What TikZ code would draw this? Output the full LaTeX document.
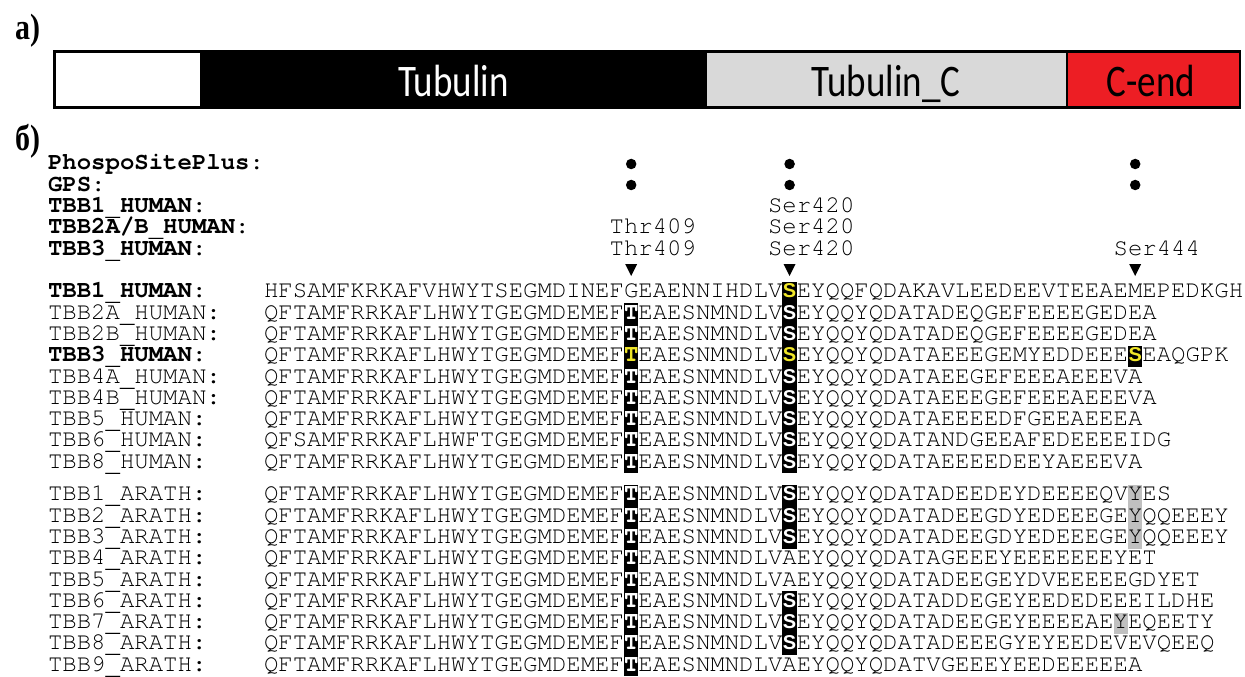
\documentclass[tikz,border=0pt]{standalone}
\usepackage{fontspec}
\setmainfont{Liberation Serif}
\newfontfamily\cur{texgyrecursor}[Extension=.otf,UprightFont=*-regular,BoldFont=*-bold]
\newfontfamily\hlsans{Liberation Sans}
\newfontfamily\carl{Carlito}
\definecolor{hyel}{RGB}{240,230,40}
\definecolor{hgray}{RGB}{192,192,192}
\definecolor{tcgray}{RGB}{217,217,217}
\definecolor{cred}{RGB}{237,30,36}
\newcommand\seqfont{\cur\fontsize{24bp}{24bp}\selectfont}
\newcommand\us{\raisebox{-3bp}{\_}}
\newcommand\hk[3]{\makebox[0pt][l]{\textcolor{#1}{\rule[-5.2bp]{14.4bp}{21.3bp}}}\makebox[14.4bp]{\hlsans\bfseries\fontsize{20bp}{20bp}\selectfont\textcolor{#2}{#3}}}
\newcommand\hlT[2]{\makebox[0pt][l]{\textcolor{#1}{\rule[-5.2bp]{14.4bp}{21.3bp}}}\makebox[14.4bp]{\bfseries\textcolor{#2}{T}}}
\newcommand\hy{\makebox[0pt][l]{\textcolor{hgray}{\rule[-5.2bp]{14.4bp}{21.3bp}}}Y}
\newcommand\pre{QFTAMFRRKAFLHWYTGEGMDEMEF}
\newcommand\tall[1]{\scalebox{1}[1.22]{#1}}
\begin{document}
\begin{tikzpicture}[x=1bp,y=-1bp,
  txt/.style={anchor=base west,inner sep=0pt,outer sep=0pt,font=\seqfont},
  panel/.style={anchor=base west,inner sep=0pt,outer sep=0pt,font=\bfseries\fontsize{30bp}{30bp}\selectfont},
  seg/.style={anchor=north west,inner sep=0pt,outer sep=0pt,minimum height=56bp},
  bartxt/.style={anchor=base,inner sep=0pt,outer sep=0pt,font=\carl\fontsize{37bp}{37bp}\selectfont},
  dot/.style={circle,fill=black,inner sep=0pt,minimum size=10.5bp}]
\useasboundingbox (0,0) rectangle (1245,677);
% panel a
\node[panel] (la) at (15,40) {\tall{a)}};
\node[seg,fill=white,minimum width=145.5bp] (s0) at (54.5,51.5) {};
\node[seg,fill=black,minimum width=507bp] (s1) at (200,51.5) {};
\node[seg,fill=tcgray,minimum width=360bp] (s2) at (707,51.5) {};
\node[seg,fill=cred,minimum width=173bp] (s3) at (1067,51.5) {};
\node[bartxt,text=white] (t1) at (453.5,96.5) {\tall{Tubulin}};
\node[bartxt] (t2) at (886,96.5) {\tall{Tubulin\_C}};
\node[bartxt] (t3) at (1151,96.5) {\tall{C-end}};
\draw[line width=2.2bp] (s2.north east) -- (s2.south east);
\draw[line width=2.2bp] (s0.north west) rectangle (s3.south east);
% panel b
\node[panel] (lb) at (15,151) {\tall{б)}};
% header
\node[txt] (h0) at (48,170) {{\bfseries PhospoSitePlus}:};
\node[txt] (h1) at (48,191.3) {{\bfseries GPS}:};
\node[txt] (h2) at (48,212.6) {{\bfseries TBB1\us HUMAN}:};
\node[txt] (h3) at (48,233.9) {{\bfseries TBB2A/B\us HUMAN}:};
\node[txt] (h4) at (48,255.2) {{\bfseries TBB3\us HUMAN}:};
\foreach \c/\n in {631.2/a,789.6/b,1135.2/c}{
  \node[dot] (p\n) at (\c,164) {};
  \node[dot] (g\n) at (\c,185) {};
  \fill (\c-6,264) -- (\c+6,264) -- (\c,276) -- cycle;
}
\node[txt] (k1) at (768,212.6) {Ser420};
\node[txt] (k2) at (609.6,233.9) {Thr409};
\node[txt] (k3) at (768,233.9) {Ser420};
\node[txt] (k4) at (609.6,255.2) {Thr409};
\node[txt] (k5) at (768,255.2) {Ser420};
\node[txt] (k6) at (1113.6,255.2) {Ser444};
% human
\node[txt] (n1) at (48,297.8) {{\bfseries TBB1\us HUMAN}:};
\node[txt] (q1) at (264,297.8) {HFSAMFKRKAFVHWYTSEGMDINEFGEAENNIHDLV\hk{black}{hyel}{S}EYQQFQDAKAVLEEDEEVTEEAEMEPEDKGH};
\node[txt] (n2) at (48,319.1) {TBB2A\us HUMAN:};
\node[txt] (q2) at (264,319.1) {\pre\hlT{black}{white}EAESNMNDLV\hk{black}{white}{S}EYQQYQDATADEQGEFEEEEGEDEA};
\node[txt] (n3) at (48,340.4) {TBB2B\us HUMAN:};
\node[txt] (q3) at (264,340.4) {\pre\hlT{black}{white}EAESNMNDLV\hk{black}{white}{S}EYQQYQDATADEQGEFEEEEGEDEA};
\node[txt] (n4) at (48,361.7) {{\bfseries TBB3\us HUMAN}:};
\node[txt] (q4) at (264,361.7) {\pre\hlT{black}{hyel}EAESNMNDLV\hk{black}{hyel}{S}EYQQYQDATAEEEGEMYEDDEEE\hk{black}{hyel}{S}EAQGPK};
\node[txt] (n5) at (48,383) {TBB4A\us HUMAN:};
\node[txt] (q5) at (264,383) {\pre\hlT{black}{white}EAESNMNDLV\hk{black}{white}{S}EYQQYQDATAEEGEFEEEAEEEVA};
\node[txt] (n6) at (48,404.3) {TBB4B\us HUMAN:};
\node[txt] (q6) at (264,404.3) {\pre\hlT{black}{white}EAESNMNDLV\hk{black}{white}{S}EYQQYQDATAEEEGEFEEEAEEEVA};
\node[txt] (n7) at (48,425.6) {TBB5\us HUMAN:};
\node[txt] (q7) at (264,425.6) {\pre\hlT{black}{white}EAESNMNDLV\hk{black}{white}{S}EYQQYQDATAEEEEDFGEEAEEEA};
\node[txt] (n8) at (48,446.9) {TBB6\us HUMAN:};
\node[txt] (q8) at (264,446.9) {QFSAMFRRKAFLHWFTGEGMDEMEF\hlT{black}{white}EAESNMNDLV\hk{black}{white}{S}EYQQYQDATANDGEEAFEDEEEEIDG};
\node[txt] (n9) at (48,468.2) {TBB8\us HUMAN:};
\node[txt] (q9) at (264,468.2) {\pre\hlT{black}{white}EAESNMNDLV\hk{black}{white}{S}EYQQYQDATAEEEEDEEYAEEEVA};
% arath
\node[txt] (a1) at (48,500.8) {TBB1\us ARATH:};
\node[txt] (r1) at (264,500.8) {\pre\hlT{black}{white}EAESNMNDLV\hk{black}{white}{S}EYQQYQDATADEEDEYDEEEEQV\hy ES};
\node[txt] (a2) at (48,522.1) {TBB2\us ARATH:};
\node[txt] (r2) at (264,522.1) {\pre\hlT{black}{white}EAESNMNDLV\hk{black}{white}{S}EYQQYQDATADEEGDYEDEEEGE\hy QQEEEY};
\node[txt] (a3) at (48,543.4) {TBB3\us ARATH:};
\node[txt] (r3) at (264,543.4) {\pre\hlT{black}{white}EAESNMNDLV\hk{black}{white}{S}EYQQYQDATADEEGDYEDEEEGE\hy QQEEEY};
\node[txt] (a4) at (48,564.7) {TBB4\us ARATH:};
\node[txt] (r4) at (264,564.7) {\pre\hlT{black}{white}EAESNMNDLVAEYQQYQDATAGEEEYEEEEEEEYET};
\node[txt] (a5) at (48,586) {TBB5\us ARATH:};
\node[txt] (r5) at (264,586) {\pre\hlT{black}{white}EAESNMNDLVAEYQQYQDATADEEGEYDVEEEEEGDYET};
\node[txt] (a6) at (48,607.3) {TBB6\us ARATH:};
\node[txt] (r6) at (264,607.3) {\pre\hlT{black}{white}EAESNMNDLV\hk{black}{white}{S}EYQQYQDATADDEGEYEEDEDEEEILDHE};
\node[txt] (a7) at (48,628.6) {TBB7\us ARATH:};
\node[txt] (r7) at (264,628.6) {\pre\hlT{black}{white}EAESNMNDLV\hk{black}{white}{S}EYQQYQDATADEEGEYEEEEAE\hy EQEETY};
\node[txt] (a8) at (48,649.9) {TBB8\us ARATH:};
\node[txt] (r8) at (264,649.9) {\pre\hlT{black}{white}EAESNMNDLV\hk{black}{white}{S}EYQQYQDATADEEEGYEYEEDEVEVQEEQ};
\node[txt] (a9) at (48,671.2) {TBB9\us ARATH:};
\node[txt] (r9) at (264,671.2) {\pre\hlT{black}{white}EAESNMNDLVAEYQQYQDATVGEEEYEEDEEEEEA};
\end{tikzpicture}
\end{document}
